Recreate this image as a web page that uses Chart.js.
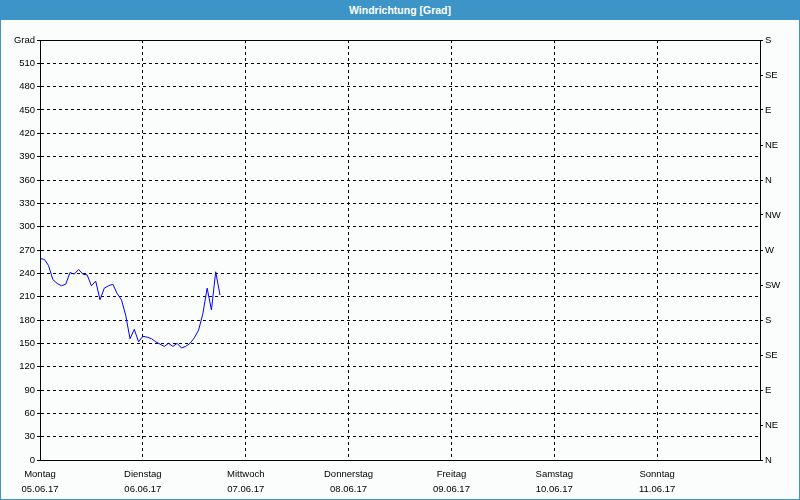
<!DOCTYPE html>
<html>
<head>
    <title>Windrichtung</title>
    <style>
        body {
            margin: 0;
            background: #ffffff;
        }
        #frame {
            position: relative;
            width: 800px;
            height: 500px;
            box-sizing: border-box;
            border-left: 1px solid #3d94c6;
            border-right: 1px solid #3d94c6;
            border-bottom: 1px solid #3d94c6;
            background: #fbfdfc;
        }
        #title-bar {
            height: 20px;
            line-height: 20px;
            background: #3d94c6;
            color: #ffffff;
            text-align: center;
            font-family: "Liberation Sans", Arial, sans-serif;
            font-weight: bold;
            font-size: 10.5px;
        }
        canvas {
            display: block;
        }
    </style>
</head>
<body>
    <script src="https://cdn.jsdelivr.net/npm/chart.js@4/dist/chart.umd.min.js"></script>

    <div id="frame">
        <div id="title-bar">Windrichtung [Grad]</div>
        <canvas id="windChart" width="798" height="479"></canvas>
    </div>

    <script>
        // Wochentage und Datum unter der x-Achse (ein Tick je 24 h)
        const dayNames = ['Montag', 'Dienstag', 'Mittwoch', 'Donnerstag', 'Freitag', 'Samstag', 'Sonntag'];
        const dayDates = ['05.06.17', '06.06.17', '07.06.17', '08.06.17', '09.06.17', '10.06.17', '11.06.17'];

        // Windrichtung in Grad, stündlich ab Montag 00:00
        const windDir = [
            259, 258, 250, 232, 227, 224, 226, 241, 239, 245,
            239, 238, 224, 230, 206, 221, 224, 226, 214, 206,
            186, 156, 168, 152, 159, 158, 156, 152, 149, 146,
            150, 146, 150, 144, 146, 150, 157, 167, 188, 221,
            193, 242, 212
        ];

        // rechte Achse: Himmelsrichtungen alle 45 Grad
        const compassLabels = ['N', 'NE', 'E', 'SE', 'S', 'SW', 'W', 'NW', 'N', 'NE', 'E', 'SE', 'S'];

        const HOURS_PER_DAY = 24;
        const Y_MAX = 540;

        const tickFont = { family: '"Liberation Sans", Arial, sans-serif', size: 9.5 };

        // Rahmen um die Zeichenfläche
        const framePlugin = {
            id: 'frame',
            afterDraw(chart) {
                const a = chart.chartArea;
                const ctx = chart.ctx;
                ctx.save();
                ctx.strokeStyle = '#000';
                ctx.lineWidth = 1;
                ctx.strokeRect(a.left + 0.5, a.top + 0.5, a.right - a.left, a.bottom - a.top);
                ctx.restore();
            }
        };

        const points = windDir.map((v, i) => ({ x: i, y: v }));

        new Chart('windChart', {
            type: 'line',
            data: {
                datasets: [{
                    data: points,
                    borderColor: '#0000ff',
                    borderWidth: 1,
                    pointRadius: 0,
                    tension: 0,
                    fill: false
                }]
            },
            options: {
                responsive: false,
                animation: false,
                devicePixelRatio: 1,
                layout: { padding: { top: 20, left: 0, right: 0, bottom: 0 } },
                plugins: {
                    legend: { display: false },
                    tooltip: { enabled: false }
                },
                scales: {
                    x: {
                        type: 'linear',
                        min: 0,
                        max: HOURS_PER_DAY * 7,
                        afterBuildTicks(scale) {
                            scale.ticks = [];
                            for (let d = 0; d <= 7; d++) scale.ticks.push({ value: d * HOURS_PER_DAY });
                        },
                        afterFit(scale) { scale.height = 39; },
                        grid: {
                            color: ctx => (ctx.tick && (ctx.tick.value === 0 || ctx.tick.value === HOURS_PER_DAY * 7)) ? 'rgba(0,0,0,0)' : '#000',
                            drawTicks: false,
                            lineWidth: 1
                        },
                        border: { display: true, color: '#000', dash: [3, 3] },
                        ticks: {
                            autoSkip: false,
                            maxRotation: 0,
                            padding: 7,
                            color: '#000',
                            font: { family: tickFont.family, size: tickFont.size, lineHeight: 1.6 },
                            callback: v => {
                                const d = Math.round(v / HOURS_PER_DAY);
                                return d < dayNames.length ? [dayNames[d], dayDates[d]] : '';
                            }
                        }
                    },
                    y: {
                        position: 'left',
                        min: 0,
                        max: Y_MAX,
                        afterFit(scale) { scale.width = 39; },
                        grid: {
                            color: ctx => (ctx.tick && (ctx.tick.value === 0 || ctx.tick.value === Y_MAX)) ? 'rgba(0,0,0,0)' : '#000',
                            tickColor: '#000',
                            tickLength: 3,
                            lineWidth: 1
                        },
                        border: { display: true, color: '#000', dash: [3, 3] },
                        ticks: {
                            stepSize: 30,
                            autoSkip: false,
                            padding: 2,
                            color: '#000',
                            font: tickFont,
                            callback: v => v === Y_MAX ? 'Grad' : String(v)
                        }
                    },
                    y2: {
                        position: 'right',
                        min: 0,
                        max: Y_MAX,
                        afterFit(scale) { scale.width = 39; },
                        grid: {
                            drawOnChartArea: false,
                            tickColor: '#000',
                            tickLength: 3
                        },
                        border: { display: true, color: '#000' },
                        ticks: {
                            stepSize: 45,
                            autoSkip: false,
                            padding: 2,
                            color: '#000',
                            font: tickFont,
                            callback: v => compassLabels[Math.round(v / 45)]
                        }
                    }
                }
            },
            plugins: [framePlugin]
        });
    </script>
</body>
</html>
